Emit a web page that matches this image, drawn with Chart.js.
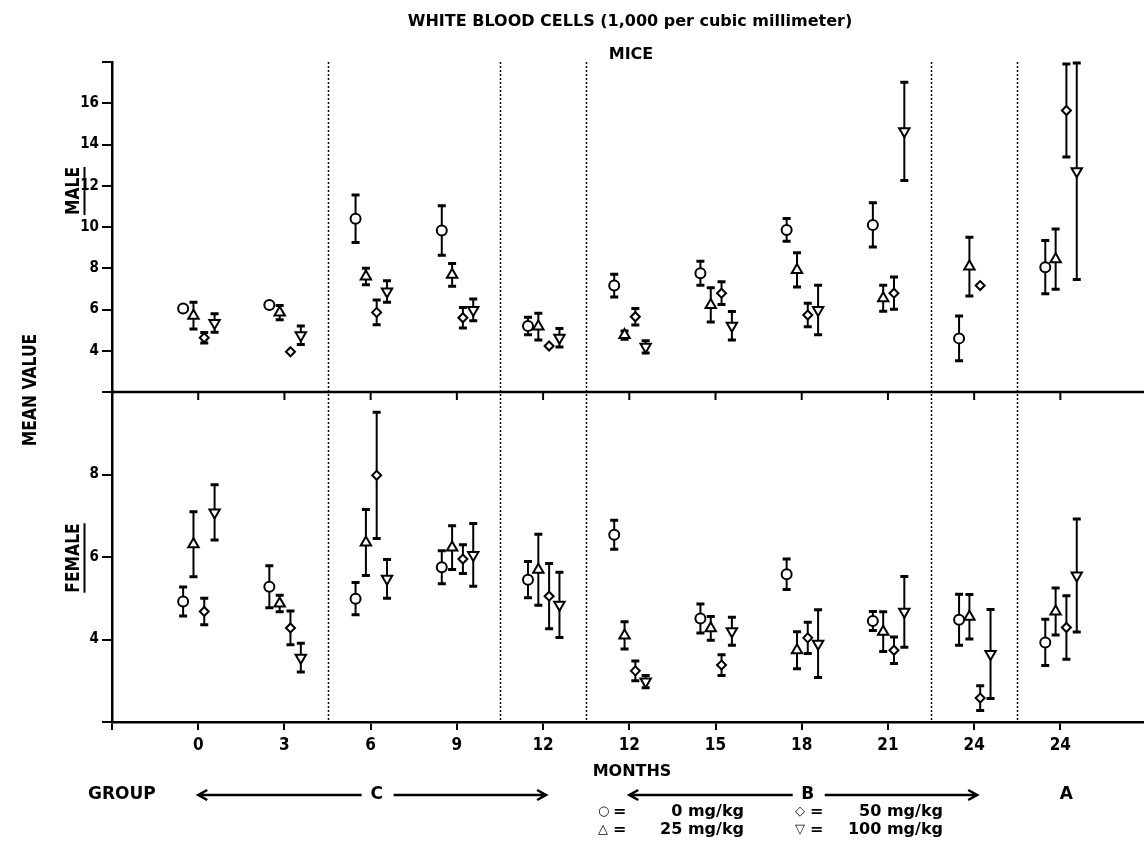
<!DOCTYPE html>
<html>
<head>
<meta charset="utf-8">
<script src="https://cdn.jsdelivr.net/npm/chart.js@4.4.1/dist/chart.umd.min.js"></script>
<style>
  html, body { margin: 0; padding: 0; background: #fff; }
  #wrap { position: relative; width: 1144px; height: 856px; }
</style>
</head>
<body>
<div id="wrap"><canvas id="wbcChart" width="1144" height="856"></canvas></div>
<script>
// one slot per month, groups C | B | A
const months = ['0', '3', '6', '9', '12', '12', '15', '18', '21', '24', '24'];
const doseLabels = ['0 mg/kg', '25 mg/kg', '50 mg/kg', '100 mg/kg'];
const maleTicks = [4, 6, 8, 10, 12, 14, 16];
const femaleTicks = [4, 6, 8];
const groupNames = ['C', 'B', 'A'];
const groupStart = [0, 5, 10];
const groupEnd = [4, 9, 10];
const separators = [1.5, 3.5, 4.5, 8.5, 9.5];

// male means and half error bars
const male0 = [6.05, 6.22, 10.4, 9.83, 5.2, 7.16, 7.76, 9.86, 10.1, 4.6, 8.05];
const male0Err = [0.1, 0.1, 1.15, 1.2, 0.42, 0.55, 0.58, 0.55, 1.07, 1.09, 1.29];
const male25 = [5.7, 5.85, 7.6, 7.68, 5.17, 4.76, 6.22, 7.92, 6.54, 8.08, 8.44];
const male25Err = [0.65, 0.35, 0.4, 0.55, 0.65, 0.2, 0.83, 0.83, 0.63, 1.42, 1.46];
const male50 = [4.63, 3.95, 5.86, 5.6, 4.23, 5.65, 6.79, 5.73, 6.79, 7.16, 15.65];
const male50Err = [0.25, 0, 0.6, 0.5, 0, 0.4, 0.55, 0.57, 0.78, 0, 2.25];
const male100 = [5.35, 4.75, 6.87, 5.98, 4.63, 4.19, 5.21, 5.98, 14.64, null, 12.7];
const male100Err = [0.45, 0.45, 0.52, 0.53, 0.45, 0.3, 0.69, 1.2, 2.38, null, 5.25];

// female means and half error bars
const female0 = [4.92, 5.28, 4.99, 5.75, 5.45, 6.54, 4.51, 5.58, 4.45, 4.48, 3.93];
const female0Err = [0.35, 0.51, 0.39, 0.4, 0.44, 0.35, 0.35, 0.37, 0.23, 0.62, 0.56];
const female25 = [6.31, 4.87, 6.35, 6.23, 5.69, 4.1, 4.27, 3.74, 4.19, 4.55, 4.68];
const female25Err = [0.79, 0.2, 0.8, 0.53, 0.86, 0.33, 0.29, 0.45, 0.48, 0.54, 0.57];
const female50 = [4.68, 4.28, 7.98, 5.95, 5.05, 3.24, 3.38, 4.04, 3.74, 2.58, 4.29];
const female50Err = [0.32, 0.41, 1.53, 0.35, 0.79, 0.24, 0.25, 0.38, 0.32, 0.3, 0.77];
const female100 = [7.08, 3.56, 5.47, 6.05, 4.84, 2.98, 4.2, 3.9, 4.67, 3.65, 5.55];
const female100Err = [0.67, 0.35, 0.47, 0.76, 0.79, 0.15, 0.34, 0.82, 0.86, 1.08, 1.37];

// marker look per dose
const doseOffsets = [-0.175, -0.055, 0.07, 0.19];
const pointStyles = ['circle', 'triangle', 'rectRot', 'triangle'];
const pointRotations = [0, 0, 0, 180];
const pointRadii = [5, 6, 4.5, 6];

const bold = "'DejaVu Sans', sans-serif";
const narrow = "'Liberation Sans Narrow', 'DejaVu Sans Condensed', 'Liberation Sans', sans-serif";

function buildSet(sex, means, errs, dose, axis) {
    return {
        label: sex + ' ' + doseLabels[dose],
        yAxisID: axis,
        data: means.map(function (v, i) { return { x: i + doseOffsets[dose], y: v }; }),
        errors: errs,
        showLine: false,
        pointStyle: pointStyles[dose],
        pointRotation: pointRotations[dose],
        pointRadius: pointRadii[dose],
        pointBackgroundColor: '#fff',
        pointBorderColor: '#000',
        pointBorderWidth: 2
    };
}

const errorBars = {
    id: 'errorBars',
    beforeDatasetsDraw: function (chart) {
        const ctx = chart.ctx;
        ctx.save();
        ctx.strokeStyle = '#000';
        chart.data.datasets.forEach(function (ds, i) {
            const meta = chart.getDatasetMeta(i);
            const scale = chart.scales[ds.yAxisID];
            meta.data.forEach(function (pt, j) {
                const v = ds.data[j].y, e = ds.errors[j];
                if (v == null || !e) return;
                const yTop = scale.getPixelForValue(Math.min(v + e, scale.max));
                const yBot = scale.getPixelForValue(Math.max(v - e, scale.min));
                ctx.lineWidth = 2;
                ctx.beginPath();
                ctx.moveTo(pt.x, yTop); ctx.lineTo(pt.x, yBot);
                ctx.stroke();
                ctx.lineWidth = 3;
                ctx.beginPath();
                ctx.moveTo(pt.x - 4, yTop); ctx.lineTo(pt.x + 4, yTop);
                ctx.moveTo(pt.x - 4, yBot); ctx.lineTo(pt.x + 4, yBot);
                ctx.stroke();
            });
        });
        ctx.restore();
    }
};

function vText(ctx, text, x, y, size, underline) {
    ctx.save();
    ctx.translate(x, y);
    ctx.rotate(-Math.PI / 2);
    ctx.scale(0.82, 1);
    ctx.font = 'bold ' + size + 'px ' + bold;
    ctx.textAlign = 'center';
    ctx.textBaseline = 'middle';
    ctx.fillText(text, 0, 0);
    if (underline) {
        const w = ctx.measureText(text).width;
        ctx.fillRect(-w / 2, size * 0.5, w, 2);
    }
    ctx.restore();
}

function arrow(ctx, x1, x2, y, headLeft) {
    ctx.beginPath();
    ctx.moveTo(x1, y); ctx.lineTo(x2, y);
    const hx = headLeft ? x1 : x2, d = headLeft ? 1 : -1;
    ctx.moveTo(hx + d * 9, y - 5); ctx.lineTo(hx, y); ctx.lineTo(hx + d * 9, y + 5);
    ctx.stroke();
}

const decorations = {
    id: 'decorations',
    beforeDatasetsDraw: function (chart) {
        const ctx = chart.ctx, xs = chart.scales.x, area = chart.chartArea;
        const yMid = chart.scales.yF.getPixelForValue(10);
        ctx.save();
        ctx.strokeStyle = '#000';
        // dotted group separators
        ctx.lineWidth = 1.5;
        ctx.setLineDash([2, 2]);
        separators.forEach(function (s) {
            const px = Math.round(xs.getPixelForValue(s)) + 0.5;
            ctx.beginPath();
            ctx.moveTo(px, area.top); ctx.lineTo(px, area.bottom);
            ctx.stroke();
        });
        ctx.setLineDash([]);
        // line between the male and female panels
        ctx.lineWidth = 2.5;
        ctx.beginPath();
        ctx.moveTo(area.left, yMid); ctx.lineTo(area.right, yMid);
        ctx.stroke();
        ctx.lineWidth = 2;
        months.forEach(function (m, i) {
            const px = xs.getPixelForValue(i);
            ctx.beginPath();
            ctx.moveTo(px, yMid); ctx.lineTo(px, yMid + 8);
            ctx.stroke();
        });
        ctx.restore();
    },
    afterDraw: function (chart) {
        const ctx = chart.ctx, xs = chart.scales.x, area = chart.chartArea;
        const cx = (area.left + area.right) / 2;
        ctx.save();
        ctx.fillStyle = '#000';
        ctx.strokeStyle = '#000';
        ctx.textBaseline = 'middle';
        ctx.textAlign = 'center';
        ctx.font = 'bold 16px ' + bold;
        ctx.fillText('WHITE BLOOD CELLS (1,000 per cubic millimeter)', cx + 2, 22);
        ctx.fillText('MICE', cx + 3, 55);
        ctx.fillText('MONTHS', cx + 4, 772);

        vText(ctx, 'MEAN VALUE', 31, 390, 19, false);
        vText(ctx, 'MALE', 74, 191, 19, true);
        vText(ctx, 'FEMALE', 74, 558, 19, true);

        // group row
        ctx.font = 'bold 17px ' + bold;
        ctx.textAlign = 'left';
        ctx.fillText('GROUP', 88, 795);
        ctx.textAlign = 'center';
        ctx.lineWidth = 2.5;
        groupNames.forEach(function (g, k) {
            const x1 = xs.getPixelForValue(groupStart[k]);
            const x2 = xs.getPixelForValue(groupEnd[k]);
            const mid = xs.getPixelForValue((groupStart[k] + groupEnd[k]) / 2) + 6;
            ctx.fillText(g, mid, 795);
            if (groupEnd[k] > groupStart[k]) {
                arrow(ctx, x1, mid - 15, 795, true);
                arrow(ctx, mid + 17, x2 + 3, 795, false);
            }
        });

        // dose key
        const symbols = ['\u25CB', '\u25B3', '\u25C7', '\u25BD'];
        const keyX = [598, 598, 795, 795];
        const keyRight = [744, 744, 943, 943];
        const keyY = [812, 830, 812, 830];
        doseLabels.forEach(function (lab, d) {
            ctx.font = 'bold 13px ' + bold;
            ctx.textAlign = 'left';
            ctx.fillText(symbols[d], keyX[d], keyY[d]);
            ctx.font = 'bold 16px ' + bold;
            ctx.fillText('=', keyX[d] + 15, keyY[d]);
            ctx.textAlign = 'right';
            ctx.fillText(lab, keyRight[d], keyY[d]);
        });
        ctx.restore();
    }
};

function noPadX(s) {
    s.height = 40;
    s.paddingLeft = 0;
    s.paddingRight = 0;
}
function noPadY(s) {
    s.width = 112;
    s.paddingTop = 0;
    s.paddingBottom = 0;
}

const ctx = document.getElementById('wbcChart').getContext('2d');
const wbcChart = new Chart(ctx, {
    type: 'scatter',
    data: {
        datasets: [
            buildSet('Male', male0, male0Err, 0, 'yM'),
            buildSet('Male', male25, male25Err, 1, 'yM'),
            buildSet('Male', male50, male50Err, 2, 'yM'),
            buildSet('Male', male100, male100Err, 3, 'yM'),
            buildSet('Female', female0, female0Err, 0, 'yF'),
            buildSet('Female', female25, female25Err, 1, 'yF'),
            buildSet('Female', female50, female50Err, 2, 'yF'),
            buildSet('Female', female100, female100Err, 3, 'yF')
        ]
    },
    options: {
        responsive: false,
        animation: false,
        events: [],
        layout: { autoPadding: false, padding: { top: 62, bottom: 94, left: 0, right: 0 } },
        plugins: { legend: { display: false }, tooltip: { enabled: false } },
        scales: {
            x: {
                type: 'linear',
                min: -1,
                max: 10.97,
                afterFit: noPadX,
                border: { display: true, color: '#000', width: 2.5 },
                grid: { drawOnChartArea: false, drawTicks: true, tickLength: 8, color: '#000', lineWidth: 2 },
                ticks: {
                    stepSize: 1,
                    includeBounds: false,
                    autoSkip: false,
                    maxRotation: 0,
                    padding: 5,
                    color: '#000',
                    font: { family: narrow, size: 17, weight: 'bold' },
                    callback: function (v) { return months[v] !== undefined ? months[v] : ''; }
                }
            },
            yF: {
                type: 'linear',
                position: 'left',
                stack: 'panels',
                stackWeight: 1,
                min: 2,
                max: 10,
                afterFit: noPadY,
                border: { display: true, color: '#000', width: 2.5 },
                grid: { drawOnChartArea: false, drawTicks: true, tickLength: 10, color: '#000', lineWidth: 2 },
                ticks: {
                    stepSize: 2,
                    padding: 3,
                    color: '#000',
                    font: { family: narrow, size: 15, weight: 'bold' },
                    callback: function (v) { return femaleTicks.indexOf(v) >= 0 ? String(v) : ''; }
                }
            },
            yM: {
                type: 'linear',
                position: 'left',
                stack: 'panels',
                stackWeight: 1,
                min: 2,
                max: 18,
                afterFit: noPadY,
                border: { display: true, color: '#000', width: 2.5 },
                grid: { drawOnChartArea: false, drawTicks: true, tickLength: 10, color: '#000', lineWidth: 2 },
                ticks: {
                    stepSize: 2,
                    padding: 3,
                    color: '#000',
                    font: { family: narrow, size: 15, weight: 'bold' },
                    callback: function (v) { return maleTicks.indexOf(v) >= 0 ? String(v) : ''; }
                }
            }
        }
    },
    plugins: [errorBars, decorations]
});
</script>
</body>
</html>
